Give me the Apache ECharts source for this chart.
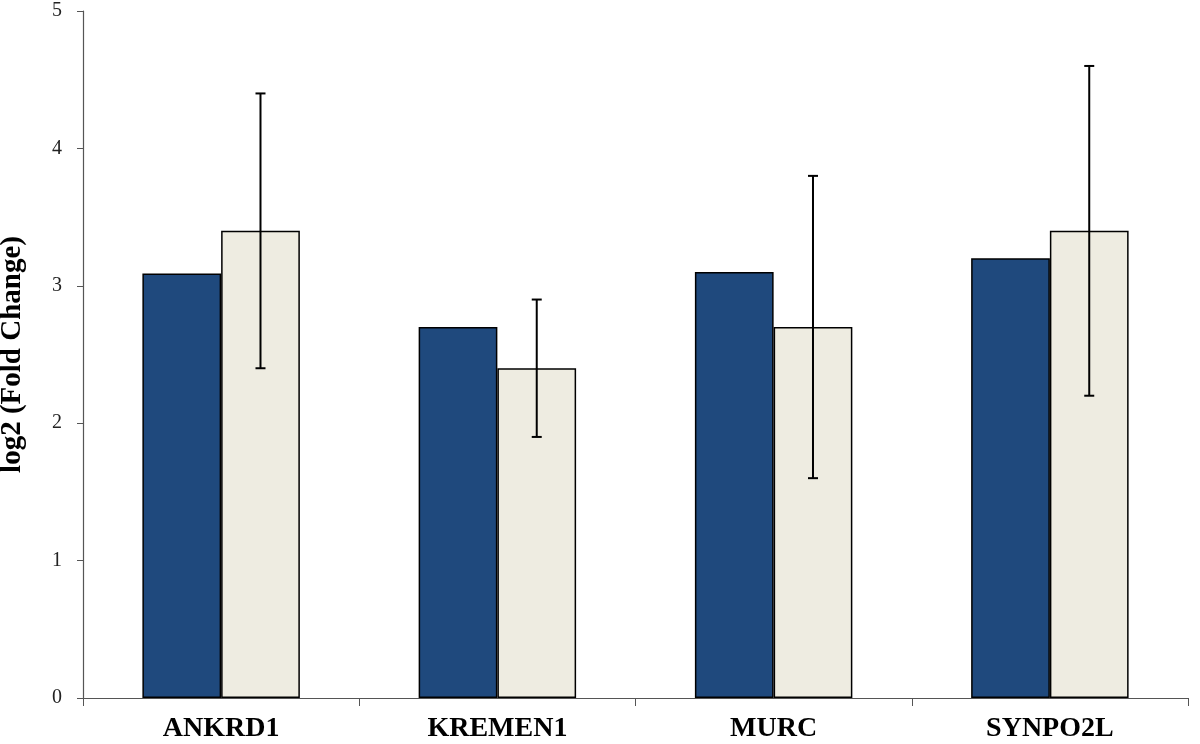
<!DOCTYPE html>
<html>
<head>
<meta charset="utf-8">
<script src="https://cdn.jsdelivr.net/npm/echarts@6/dist/echarts.min.js"></script>
<style>
html,body{margin:0;padding:0;background:#fff;}
#chart{width:1200px;height:744px;}
</style>
</head>
<body>
<div id="chart"></div>
<script>
const categories = ['ANKRD1', 'KREMEN1', 'MURC', 'SYNPO2L'];
const seriesA = [3.09, 2.70, 3.10, 3.20];
const seriesB = [3.40, 2.40, 2.70, 3.40];
const errLow = [2.40, 1.90, 1.60, 2.20];
const errHigh = [4.40, 2.90, 3.80, 4.60];
const yTicks = [0, 1, 2, 3, 4, 5];

const GAP = 0.43;
const errData = categories.map((c, i) => [i, errLow[i], errHigh[i]]);

const chart = echarts.init(document.getElementById('chart'));
chart.setOption({
  animation: false,
  backgroundColor: '#ffffff',
  grid: { left: 83, right: 12, top: 11, bottom: 46, outerBoundsMode: 'none', containLabel: false },
  xAxis: {
    type: 'category',
    data: categories,
    boundaryGap: true,
    axisLine: { lineStyle: { color: '#555', width: 1.2 } },
    axisTick: { show: true, length: 8, lineStyle: { color: '#555' } },
    axisLabel: {
      color: '#000', fontFamily: 'Liberation Serif', fontWeight: 'bold',
      fontSize: 28, margin: 17
    }
  },
  yAxis: {
    type: 'value',
    min: yTicks[0], max: yTicks[yTicks.length - 1], interval: 1,
    name: 'log2 (Fold Change)',
    nameLocation: 'middle',
    nameGap: 56,
    nameTextStyle: { color: '#000', fontFamily: 'Liberation Serif', fontWeight: 'bold', fontSize: 29 },
    axisLine: { show: true, lineStyle: { color: '#555', width: 1.2 } },
    axisTick: { show: true, length: 6, lineStyle: { color: '#555' } },
    splitLine: { show: false },
    axisLabel: { color: '#222', fontFamily: 'Liberation Serif', fontSize: 20, margin: 21 }
  },
  series: [
    {
      type: 'bar', data: seriesA, barGap: '0%', barCategoryGap: (GAP * 100) + '%',
      itemStyle: { color: '#1F497D', borderColor: '#000', borderWidth: 1.5 }
    },
    {
      type: 'bar', data: seriesB, barGap: '0%', barCategoryGap: (GAP * 100) + '%',
      itemStyle: { color: '#EEECE1', borderColor: '#000', borderWidth: 1.5 }
    },
    {
      type: 'custom',
      data: errData,
      z: 10,
      renderItem: function (params, api) {
        const idx = api.value(0);
        const lo = api.coord([idx, api.value(1)]);
        const hi = api.coord([idx, api.value(2)]);
        const band = api.size([1, 0])[0];
        const barW = band * (1 - GAP) / 2;
        const x = lo[0] + barW / 2;
        const cap = 5;
        const style = { stroke: '#000', lineWidth: 2 };
        return {
          type: 'group',
          children: [
            { type: 'line', shape: { x1: x, y1: hi[1], x2: x, y2: lo[1] }, style: style },
            { type: 'line', shape: { x1: x - cap, y1: hi[1], x2: x + cap, y2: hi[1] }, style: style },
            { type: 'line', shape: { x1: x - cap, y1: lo[1], x2: x + cap, y2: lo[1] }, style: style }
          ]
        };
      }
    }
  ]
});
</script>
</body>
</html>
